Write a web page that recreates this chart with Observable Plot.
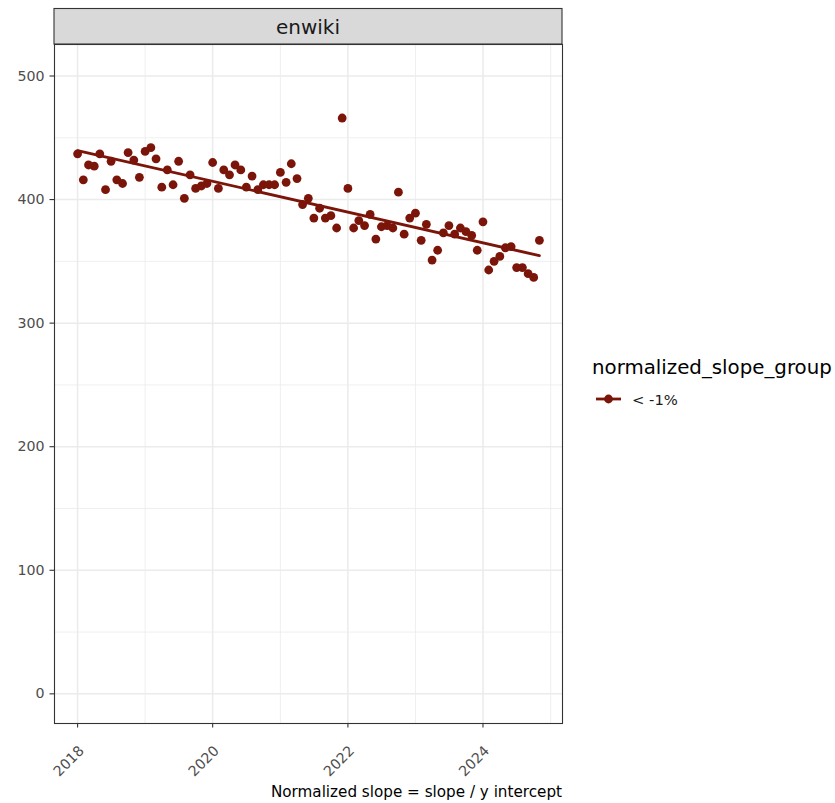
<!DOCTYPE html>
<html><head><meta charset="utf-8">
<script src="https://cdn.jsdelivr.net/npm/d3@7"></script>
<script src="https://cdn.jsdelivr.net/npm/@observablehq/plot@0.6"></script>
<style>
html,body{margin:0;padding:0;background:#fff;}
#chart{position:relative;width:835px;height:803px;}
</style>
</head><body><div id="chart"></div>
<script>
// ---- data ----
const facetLabel = "enwiki";
const months = [
"2018-01","2018-02","2018-03","2018-04","2018-05","2018-06","2018-07","2018-08","2018-09","2018-10","2018-11","2018-12",
"2019-01","2019-02","2019-03","2019-04","2019-05","2019-06","2019-07","2019-08","2019-09","2019-10","2019-11","2019-12",
"2020-01","2020-02","2020-03","2020-04","2020-05","2020-06","2020-07","2020-08","2020-09","2020-10","2020-11","2020-12",
"2021-01","2021-02","2021-03","2021-04","2021-05","2021-06","2021-07","2021-08","2021-09","2021-10","2021-11","2021-12",
"2022-01","2022-02","2022-03","2022-04","2022-05","2022-06","2022-07","2022-08","2022-09","2022-10","2022-11","2022-12",
"2023-01","2023-02","2023-03","2023-04","2023-05","2023-06","2023-07","2023-08","2023-09","2023-10","2023-11","2023-12",
"2024-01","2024-02","2024-03","2024-04","2024-05","2024-06","2024-07","2024-08","2024-09","2024-10","2024-11"
];
const values = [
437,416,428,427,437,408,431,416,413,438,432,418,
439,442,433,410,424,412,431,401,420,409,411,413,
430,409,424,420,428,424,410,419,408,412,412,412,
422,414,429,417,396,401,385,393,385,387,377,466,
409,377,383,379,388,368,378,379,377,406,372,385,
389,367,380,351,359,373,379,372,377,374,371,359,
382,343,350,354,361,362,345,345,340,337,367
];
const yTicks = [0,100,200,300,400,500];
const yMinor = [50,150,250,350,450];
const xTickYears = ["2018","2020","2022","2024"];
const xMinorYears = ["2019","2021","2023","2025"];
const legendTitle = "normalized_slope_group";
const groupLabel = "< -1%";
const caption = "Normalized slope = slope / y intercept";
const pointColor = "#7b150a";

// ---- derived ----
const parseMonth = d3.utcParse("%Y-%m");
const parseYear = d3.utcParse("%Y");
const dates = months.map(parseMonth);
const data = dates.map((d,i)=>({date:d, value:values[i]}));
const t = dates.map(d=>+d);
const mx = d3.mean(t), my = d3.mean(values);
const slope = d3.sum(t,(x,i)=>(x-mx)*(values[i]-my))/d3.sum(t,x=>(x-mx)**2);
const fitLine = [dates[0], dates[dates.length-1]].map(d=>({date:d, value: my + slope*(+d-mx)}));
const span = t[t.length-1]-t[0];
const xDomain = [new Date(t[0]-0.05*span), new Date(t[t.length-1]+0.05*span)];
const xMajor = xTickYears.map(parseYear);
const xMinor = xMinorYears.map(parseYear);

const W=835, H=803, mL=54, mR=273, mT=44, mB=80;
const font = "DejaVu Sans, sans-serif";
const axisFont = 14.2;
const small = 15.2;

const svg = Plot.plot({
  width:W, height:H, marginLeft:mL, marginRight:mR, marginTop:mT, marginBottom:mB,
  style:{fontFamily:font, background:"white", overflow:"visible"},
  x:{type:"utc", domain:xDomain, axis:null},
  y:{domain:[-24,525.5], axis:null},
  marks:[
    Plot.ruleY(yMinor,{stroke:"#ebebeb", strokeWidth:0.8}),
    Plot.ruleX(xMinor,{stroke:"#ebebeb", strokeWidth:0.8}),
    Plot.ruleY(yTicks,{stroke:"#ebebeb", strokeWidth:1.5}),
    Plot.ruleX(xMajor,{stroke:"#ebebeb", strokeWidth:1.5}),
    Plot.dot(data,{x:"date", y:"value", r:4.4, fill:pointColor, stroke:"none"}),
    Plot.line(fitLine,{x:"date", y:"value", stroke:pointColor, strokeWidth:2.8}),
    Plot.frame({stroke:"#333333", strokeWidth:1.1}),
    Plot.axisY(yTicks,{tickSize:4.5, tickFormat:()=>"", label:null, stroke:"#333333", strokeWidth:1.1}),
    Plot.axisY(yTicks,{tickSize:0, tickPadding:10, label:null, fontSize:axisFont, fill:"#4d4d4d", color:"#4d4d4d"}),
    Plot.axisX(xMajor,{tickSize:4.5, tickFormat:()=>"", label:null, stroke:"#333333", strokeWidth:1.1}),
    Plot.text(xMajor,{x:d=>d, frameAnchor:"bottom", text:d=>d3.utcFormat("%Y")(d),
      rotate:-45, textAnchor:"end", lineAnchor:"middle", dx:4, dy:25, fontSize:axisFont, fill:"#4d4d4d"})
  ]
});
document.getElementById("chart").appendChild(svg);

// strip, legend, caption
const s = d3.select(svg);
const px0 = mL, px1 = W-mR;
s.append("rect").attr("x",px0).attr("y",8.5).attr("width",px1-px0).attr("height",35.5)
  .attr("fill","#d9d9d9").attr("stroke","#333333").attr("stroke-width",1.1);
s.append("text").attr("x",(px0+px1)/2).attr("y",26.5).attr("text-anchor","middle")
  .attr("dominant-baseline","central").attr("font-size",20).attr("font-family",font)
  .attr("fill","#1a1a1a").text(facetLabel);

const lg = s.append("g").attr("text-anchor","start");
lg.append("text").attr("x",592).attr("y",374).attr("text-anchor","start").attr("font-size",19.8).attr("font-family",font)
  .attr("fill","#000").text(legendTitle);
lg.append("line").attr("x1",596).attr("x2",621).attr("y1",399).attr("y2",399)
  .attr("stroke",pointColor).attr("stroke-width",2.8);
lg.append("circle").attr("cx",608.5).attr("cy",399).attr("r",4.4).attr("fill",pointColor);
lg.append("text").attr("x",632).attr("y",399).attr("text-anchor","start").attr("dominant-baseline","central")
  .attr("font-size",14.8).attr("font-family",font).attr("fill","#1a1a1a").text(groupLabel);

s.append("text").attr("x",px1).attr("y",797).attr("text-anchor","end")
  .attr("font-size",small).attr("font-family",font).attr("fill","#000").text(caption);
</script>
</body></html>
